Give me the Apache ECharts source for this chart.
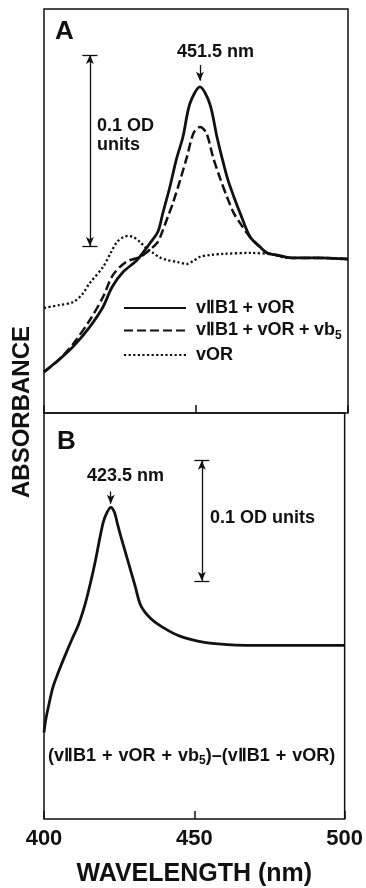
<!DOCTYPE html>
<html><head><meta charset="utf-8">
<script src="https://cdn.jsdelivr.net/npm/echarts@6/dist/echarts.min.js"></script>
<style>html,body{margin:0;padding:0;background:#fff}#c{width:366px;height:888px}</style>
</head><body><div id="c"></div>
<script>
// Panel A: absorbance spectra (OD)
const wlSolidA = [400,405,409.5,415,419.4,422.4,426,430.6,434.9,437.5,439.1,441.4,443.5,445.7,448,451.3,454.5,456.9,458.5,460.5,462.5,464.5,467.8,471.1,473.4,476.6,481.9,490,500];
const odSolidA = [0.0215,0.028,0.0346,0.045,0.0555,0.066,0.0738,0.0801,0.089,0.095,0.1047,0.1183,0.1325,0.1445,0.162,0.1707,0.162,0.1445,0.134,0.122,0.113,0.1047,0.0921,0.0869,0.0838,0.0827,0.0812,0.0812,0.0806];
const wlDashA = [400,405,409.5,415.1,419.4,422.7,427,431.6,434.5,437.2,438.2,440.8,442.4,444.8,447,449.2,451.3,453.4,455.6,457.9,460.2,462.3,464.5,467.8,471.1,473.4,476.6,481.9,490,500];
const odDashA = [0.0215,0.028,0.036,0.0487,0.0607,0.0723,0.0791,0.0817,0.085,0.089,0.092,0.103,0.1099,0.122,0.134,0.1466,0.1497,0.1466,0.134,0.123,0.1131,0.105,0.0994,0.0921,0.0869,0.0838,0.0827,0.0812,0.0812,0.0806];
const wlDotA = [400,405,409.5,412.5,415.1,419.4,422,424,426,427.6,429.5,431.6,433.5,435.9,438,440.5,444,447,449,451.3,455,458.9,467.8,475,480,490,500];
const odDotA = [0.055,0.0565,0.058,0.062,0.0681,0.0764,0.084,0.0895,0.092,0.0927,0.092,0.0895,0.0865,0.0838,0.0815,0.0801,0.079,0.078,0.0795,0.0817,0.0828,0.0833,0.0838,0.083,0.0812,0.0812,0.0806];
// Panel B: difference spectrum (OD)
const wlDiffB = [400,400.6,401.6,403,404.9,407,409.2,411.5,413.8,415.5,417.1,418.5,419.7,421,422.2,423.4,424.5,425.7,428,430.3,432.2,435.5,440.1,445.4,453.3,460.9,467.4,480,500];
const odDiffB = [0.072,0.083,0.095,0.11,0.123,0.136,0.149,0.162,0.18,0.197,0.215,0.233,0.247,0.2555,0.2595,0.2555,0.245,0.234,0.214,0.194,0.1777,0.167,0.1587,0.152,0.147,0.1452,0.1446,0.1445,0.1445];
const xTicks = [400,450,500];
const SP = '\u2005';
const SP3 = '\u2004';
const seriesNames = ['vⅡB1'+SP+'+'+SP+'vOR','vⅡB1'+SP+'+'+SP+'vOR'+SP+'+'+SP+'vb5','vOR'];
const peakA = 451.3, peakB = 422.2;
const scaleBarA = {x:415.1, y0:0.0874, y1:0.1874};
const scaleBarB = {x:452.5, y0:0.1983, y1:0.2983};

const zip = (a,b) => a.map((v,i)=>[v,b[i]]);
const K = '#111';
const F = '"Liberation Sans", Arial, sans-serif';

function scaleBar(sb, capHalf){
  return [
    [{coord:[sb.x,sb.y0],symbol:'arrow'},{coord:[sb.x,sb.y1],symbol:'arrow'}],
    [{coord:[sb.x-capHalf,sb.y0],symbol:'none'},{coord:[sb.x+capHalf,sb.y0],symbol:'none'}],
    [{coord:[sb.x-capHalf,sb.y1],symbol:'none'},{coord:[sb.x+capHalf,sb.y1],symbol:'none'}]
  ];
}

const chart = echarts.init(document.getElementById('c'), null, {renderer:'canvas'});
const xAxisBase = {type:'value', min:400, max:500, interval:50,
  axisLine:{show:false}, splitLine:{show:false},
  axisTick:{show:true, inside:true, length:8, lineStyle:{color:K,width:1.5}}};
const mlBase = {silent:true, animation:false, label:{show:false}, emphasis:{disabled:true},
  lineStyle:{color:K, width:1.3, type:'solid'}, symbolSize:[6,9]};

chart.setOption({
  animation:false,
  backgroundColor:'#fff',
  grid:[
    {left:44, top:9, width:304, height:404, show:true, borderColor:K, borderWidth:1.5},
    {left:44, top:413, width:304, height:409, show:true, borderColor:K, borderWidth:1.5}
  ],
  xAxis:[
    Object.assign({gridIndex:0, axisLabel:{show:false}}, xAxisBase),
    Object.assign({gridIndex:1, axisLabel:{show:true, color:K, fontFamily:F, fontWeight:'bold', fontSize:22, margin:9,
      customValues: xTicks},
      name:'WAVELENGTH (nm)', nameLocation:'middle', nameGap:43,
      nameTextStyle:{color:K, fontFamily:F, fontWeight:'bold', fontSize:25}}, xAxisBase)
  ],
  yAxis:[
    {gridIndex:0, type:'value', min:0, max:0.2115, show:false},
    {gridIndex:1, type:'value', min:0, max:0.338, show:false}
  ],
  legend:{
    orient:'vertical', left:123, top:299, padding:0, itemWidth:62, itemHeight:14, itemGap:4.5,
    data:seriesNames,
    itemStyle:{color:'rgba(0,0,0,0)', borderWidth:0, opacity:0},
    textStyle:{color:K, fontFamily:F, fontWeight:'bold', fontSize:18,
      rich:{a:{color:K, fontFamily:F, fontWeight:'bold', fontSize:18, padding:[0,0,0,5]},
            s:{color:K, fontFamily:F, fontWeight:'bold', fontSize:12, verticalAlign:'bottom', padding:[10,0,0,0]}}},
    formatter: n => n.endsWith('vb5') ? '{a|'+n.slice(0,-1)+'}{s|5}' : '{a|'+n+'}',
    selectedMode:false
  },
  series:[
    {name:seriesNames[0], type:'line', xAxisIndex:0, yAxisIndex:0, data:zip(wlSolidA,odSolidA),
      smooth:0.3, showSymbol:false, symbol:'none', lineStyle:{color:K, width:2.8, type:'solid'}, itemStyle:{color:K},
      markLine:Object.assign({}, mlBase, {data: scaleBar(scaleBarA, 2.5).concat([
        [{coord:[peakA,0.1822],symbol:'none'},{coord:[peakA,0.1740],symbol:'arrow'}]
      ])}), z:3},
    {name:seriesNames[1], type:'line', xAxisIndex:0, yAxisIndex:0, data:zip(wlDashA,odDashA),
      smooth:0.3, showSymbol:false, symbol:'none', lineStyle:{color:K, width:2.5, type:[9,4]}, itemStyle:{color:K}},
    {name:seriesNames[2], type:'line', xAxisIndex:0, yAxisIndex:0, data:zip(wlDotA,odDotA),
      smooth:0.3, showSymbol:false, symbol:'none', lineStyle:{color:K, width:2.3, type:[2.2,2.4]}, itemStyle:{color:K}},
    {name:'diff', type:'line', xAxisIndex:1, yAxisIndex:1, data:zip(wlDiffB,odDiffB),
      smooth:0.3, showSymbol:false, symbol:'none', lineStyle:{color:K, width:2.8}, itemStyle:{color:K},
      markLine:Object.assign({}, mlBase, {data: scaleBar(scaleBarB, 2.5).concat([
        [{coord:[peakB,0.2727],symbol:'none'},{coord:[peakB,0.2625],symbol:'arrow'}]
      ])})}
  ],
  graphic:[
    {type:'text', left:55, top:19, style:{text:'A', fill:K, font:'bold 26px '+F}},
    {type:'text', left:57, top:429, style:{text:'B', fill:K, font:'bold 26px '+F}},
    {type:'text', left:177, top:43, style:{text:'451.5 nm', fill:K, font:'bold 18px '+F}},
    {type:'text', left:97, top:117, style:{text:'0.1 OD\nunits', fill:K, font:'bold 18px '+F, lineHeight:19}},
    {type:'text', left:87, top:467, style:{text:'423.5 nm', fill:K, font:'bold 18px '+F}},
    {type:'text', left:210, top:509, style:{text:'0.1 OD units', fill:K, font:'bold 18px '+F}},
    {type:'text', left:48, top:747, style:{
      text:'{a|(vⅡB1'+SP3+'+'+SP3+'vOR'+SP3+'+'+SP3+'vb}{s|5}{a|)–(vⅡB1'+SP3+'+'+SP3+'vOR)}',
      rich:{a:{fill:K, font:'bold 18px '+F}, s:{fill:K, font:'bold 12px '+F, verticalAlign:'bottom', padding:[10,0,0,0]}}}},
    {type:'text', x:22, y:412, rotation:Math.PI/2, style:{text:'ABSORBANCE', fill:K, font:'bold 24px '+F, align:'center', verticalAlign:'middle'}}
  ]
});
</script></body></html>
